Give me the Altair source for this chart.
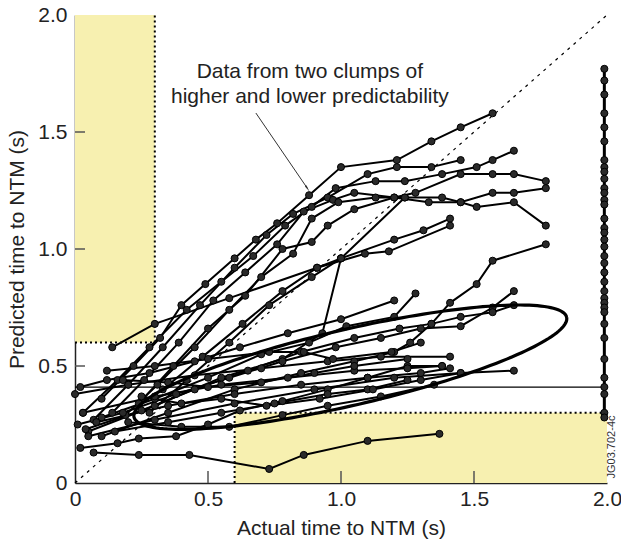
import altair as alt
import pandas as pd
import numpy as np

# ---------------- data ----------------
u1 = [(0.10,0.36),(0.22,0.50),(0.32,0.62),(0.40,0.76),(0.49,0.85),(0.60,0.96),(0.68,1.04),(0.76,1.11),(0.88,1.23),(1.00,1.35),(1.21,1.38),(1.34,1.46),(1.45,1.52),(1.57,1.58)]
u2 = [(0.03,0.30),(0.16,0.44),(0.28,0.58),(0.42,0.74),(0.55,0.86),(0.67,0.97),(0.79,1.10),(0.89,1.18),(0.98,1.26),(1.13,1.29),(1.24,1.29),(1.38,1.32),(1.51,1.35),(1.57,1.38),(1.65,1.42)]
u3 = [(0.07,0.27),(0.20,0.42),(0.33,0.58),(0.47,0.76),(0.60,0.92),(0.72,1.06),(0.82,1.15),(0.95,1.22),(1.10,1.32),(1.21,1.35),(1.34,1.35),(1.45,1.38)]
u4 = [(0.14,0.30),(0.26,0.44),(0.39,0.60),(0.52,0.78),(0.64,0.90),(0.76,1.02),(0.86,1.16),(0.97,1.21),(1.05,1.24),(1.20,1.22),(1.28,1.24),(1.45,1.32),(1.57,1.32),(1.65,1.32),(1.77,1.29)]
u5 = [(0.19,0.29),(0.31,0.42),(0.45,0.58),(0.58,0.74),(0.70,0.88),(0.82,0.98),(0.89,1.13),(0.99,1.20),(1.13,1.22),(1.24,1.22),(1.38,1.22),(1.45,1.20),(1.57,1.24),(1.65,1.24),(1.77,1.26)]
u6 = [(0.24,0.34),(0.37,0.50),(0.50,0.66),(0.64,0.80),(0.78,1.00),(0.89,1.03),(0.95,1.10),(1.05,1.17),(1.20,1.22),(1.33,1.20),(1.45,1.20),(1.51,1.18),(1.65,1.20),(1.77,1.10)]
u7 = [(0.28,0.30),(0.42,0.44),(0.58,0.60),(0.73,0.76),(0.89,0.88),(1.00,0.96),(1.20,1.04),(1.31,1.08),(1.41,1.13)]
u8 = [(0.33,0.40),(0.48,0.54),(0.63,0.68),(0.78,0.82),(0.91,0.92),(1.09,0.98),(1.18,0.99),(1.41,1.10)]
u9 = [(0.14,0.58),(0.30,0.68),(0.58,0.79),(0.91,0.92),(1.00,0.96),(1.24,1.22)]
u10 = [(0.05,0.22),(0.30,0.33),(0.55,0.45),(0.78,0.53),(0.93,0.64),(1.00,0.96)]
u11 = [(0.10,0.20),(0.35,0.30),(0.60,0.40),(0.85,0.47),(1.05,0.52),(1.20,0.56),(1.26,0.60),(1.34,0.68),(1.41,0.77),(1.51,0.85),(1.57,0.95),(1.77,1.02)]

l1 = [(0.07,0.13),(0.24,0.12),(0.43,0.12),(0.73,0.06),(0.86,0.12),(1.10,0.18),(1.37,0.21)]
l2 = [(0.02,0.15),(0.16,0.17),(0.24,0.19),(0.38,0.20),(0.50,0.25),(0.62,0.31),(0.78,0.35),(0.95,0.40),(1.10,0.45),(1.25,0.50),(1.38,0.50)]
l3 = [(0.01,0.25),(0.18,0.30),(0.38,0.38),(0.58,0.45),(0.78,0.52),(0.98,0.58),(1.15,0.62),(1.30,0.66),(1.45,0.67),(1.57,0.75),(1.65,0.82)]
l4 = [(0.04,0.23),(0.25,0.31),(0.45,0.40),(0.65,0.48),(0.85,0.56),(1.05,0.62),(1.22,0.66),(1.34,0.68),(1.45,0.71),(1.57,0.73),(1.65,0.76)]
l5 = [(0.10,0.28),(0.30,0.36),(0.50,0.45),(0.70,0.55),(0.88,0.60),(1.02,0.67),(1.20,0.71),(1.28,0.81)]
l6 = [(0.00,0.38),(0.20,0.42),(0.45,0.46),(0.70,0.49),(0.95,0.52),(1.15,0.54),(1.41,0.54)]
l7 = [(0.03,0.30),(0.30,0.37),(0.55,0.42),(0.80,0.45),(1.05,0.48),(1.25,0.49),(1.38,0.50)]
l8 = [(0.08,0.26),(0.35,0.33),(0.60,0.38),(0.85,0.42),(1.10,0.45),(1.30,0.47),(1.41,0.49)]
l9 = [(0.05,0.20),(0.30,0.27),(0.60,0.34),(0.90,0.40),(1.20,0.45),(1.45,0.47),(1.65,0.48)]
l10 = [(0.12,0.48),(0.30,0.50),(0.50,0.53),(0.73,0.56),(0.86,0.56),(0.97,0.53),(1.19,0.56),(1.30,0.60)]
l11 = [(0.02,0.41),(0.12,0.44),(0.28,0.47),(0.45,0.52),(0.62,0.58),(0.80,0.64),(1.00,0.70),(1.20,0.78)]
l12 = [(0.15,0.22),(0.35,0.26),(0.55,0.30),(0.75,0.34),(0.95,0.38),(1.10,0.40),(1.25,0.44)]
l13 = [(0.20,0.26),(0.40,0.24),(0.58,0.24),(0.78,0.29),(0.95,0.33),(1.15,0.37),(1.35,0.42)]
l14 = [(0.25,0.37),(0.40,0.34),(0.55,0.36),(0.72,0.33),(0.92,0.36),(1.12,0.40),(1.30,0.44),(1.45,0.47)]
l15 = [(0.18,0.44),(0.35,0.43),(0.50,0.41),(0.70,0.43),(0.90,0.47),(1.05,0.50),(1.25,0.53)]

series = [u1,u2,u3,u4,u5,u6,u7,u8,u9,u10,u11,
          l1,l2,l3,l4,l5,l6,l7,l8,l9,l10,l11,l12,l13,l14,l15]

# points piled up at the right edge (actual time saturated at 2.0 s)
edge_x = 1.99
edge_y = [1.77,1.72,1.66,1.58,1.52,1.46,1.38,1.35,1.33,1.30,1.26,1.24,1.21,1.19,1.13,1.09,1.07,
          1.04,1.01,0.97,0.94,0.90,0.86,0.82,0.79,0.77,0.75,0.73,0.68,0.62,0.53,0.45,0.41,0.38,0.30,0.28]

flat_y = 0.41                      # thin horizontal line
yellow_boxes = [(0.0, 0.3, 0.6, 2.0), (0.6, 2.0, 0.0, 0.3)]   # x, x2, y, y2
box_edges = [(0.3, 0.6, 0.3, 2.0), (0.0, 0.6, 0.3, 0.6), (0.6, 0.0, 0.6, 0.3), (0.6, 0.3, 2.0, 0.3)]

# ellipse annotation (centre in data units, axes in pixels, tilt in degrees)
ell_cx, ell_cy, ell_a, ell_b, ell_tilt = 1.035, 0.495, 222, 38, 13

note_lines = ["Data from two clumps of", "higher and lower predictability"]
note_x, note_y = [0.883, 0.883], [1.756, 1.650]
arrow = [(0.680, 1.581), (0.872, 1.262)]

tick_vals = [0.5, 1.0, 1.5]

# ---------------- build tables ----------------
W, H = 532, 468
rows = []
for i, s in enumerate(series):
    for j, (x, y) in enumerate(s):
        rows.append(dict(sid=i, o=j, x=x, y=y))
df = pd.DataFrame(rows)
edge = pd.DataFrame(dict(x=[edge_x]*len(edge_y), y=edge_y, o=list(range(len(edge_y)))))

t = np.linspace(0, 2*np.pi, 181)
th = np.radians(ell_tilt)
dxp = ell_a*np.cos(t)*np.cos(th) - ell_b*np.sin(t)*np.sin(th)
dyp = ell_a*np.cos(t)*np.sin(th) + ell_b*np.sin(t)*np.cos(th)
ell = pd.DataFrame(dict(x=ell_cx + dxp/(W/2), y=ell_cy + dyp/(H/2), o=range(len(t))))

xs = alt.Scale(domain=[0, 2], nice=False, zero=False)
ys = alt.Scale(domain=[0, 2], nice=False, zero=False)
FONT = "Liberation Sans"

base_x = alt.X("x:Q", scale=xs, title="Actual time to NTM (s)",
               axis=alt.Axis(values=[0, 0.5, 1, 1.5, 2], ticks=False, grid=False,
                             labelExpr="datum.value == 0 ? '0' : format(datum.value, '.1f')",
                             labelFlush=False, labelPadding=5, titlePadding=8))
base_y = alt.Y("y:Q", scale=ys, title="Predicted time to NTM (s)",
               axis=alt.Axis(values=[0, 0.5, 1, 1.5, 2], ticks=False, grid=False,
                             labelExpr="datum.value == 0 ? '0' : format(datum.value, '.1f')",
                             labelFlush=False, labelPadding=8, titlePadding=10))

rect_df = pd.DataFrame(yellow_boxes, columns=["x", "x2", "y", "y2"])
rects = alt.Chart(rect_df).mark_rect(color="#F7F0B0").encode(
    x=base_x, x2="x2:Q", y=base_y, y2="y2:Q")

edge_df = pd.DataFrame(box_edges, columns=["x", "y", "x2", "y2"])
edges = alt.Chart(edge_df).mark_rule(color="black", strokeWidth=2, strokeDash=[2, 3]).encode(
    x=alt.X("x:Q", scale=xs), y=alt.Y("y:Q", scale=ys), x2="x2:Q", y2="y2:Q")

diag = alt.Chart(pd.DataFrame(dict(x=[0], y=[0], x2=[2], y2=[2]))).mark_rule(
    color="black", strokeWidth=1.2, strokeDash=[3, 5]).encode(
    x=alt.X("x:Q", scale=xs), y=alt.Y("y:Q", scale=ys), x2="x2:Q", y2="y2:Q")

flat = alt.Chart(pd.DataFrame(dict(x=[0], x2=[2], y=[flat_y]))).mark_rule(
    color="black", strokeWidth=1.3).encode(
    x=alt.X("x:Q", scale=xs), x2="x2:Q", y=alt.Y("y:Q", scale=ys))

lines = alt.Chart(df).mark_line(color="black", strokeWidth=2).encode(
    x=alt.X("x:Q", scale=xs), y=alt.Y("y:Q", scale=ys), detail="sid:N", order="o:Q")
pts = alt.Chart(df).mark_point(filled=True, fill="#2a2a2a", stroke="black",
                               strokeWidth=1, size=50, opacity=1).encode(
    x=alt.X("x:Q", scale=xs), y=alt.Y("y:Q", scale=ys))

edge_line = alt.Chart(edge).mark_line(color="black", strokeWidth=3).encode(
    x=alt.X("x:Q", scale=xs), y=alt.Y("y:Q", scale=ys), order="o:Q")
edge_pts = alt.Chart(edge).mark_point(filled=True, fill="#2a2a2a", stroke="black",
                                      strokeWidth=1, size=50, opacity=1).encode(
    x=alt.X("x:Q", scale=xs), y=alt.Y("y:Q", scale=ys))

ellipse = alt.Chart(ell).mark_line(color="black", strokeWidth=3.2).encode(
    x=alt.X("x:Q", scale=xs), y=alt.Y("y:Q", scale=ys), order="o:Q")

note = alt.Chart(pd.DataFrame(dict(x=note_x, y=note_y, t=note_lines))).mark_text(
    font=FONT, fontSize=21, color="#222", align="center", baseline="middle").encode(
    x=alt.X("x:Q", scale=xs), y=alt.Y("y:Q", scale=ys), text="t:N")

arr_df = pd.DataFrame(dict(x=[arrow[0][0]], y=[arrow[0][1]], x2=[arrow[1][0]], y2=[arrow[1][1]]))
arr = alt.Chart(arr_df).mark_rule(color="#333", strokeWidth=1).encode(
    x=alt.X("x:Q", scale=xs), y=alt.Y("y:Q", scale=ys), x2="x2:Q", y2="y2:Q")
head = alt.Chart(pd.DataFrame(dict(x=[arrow[1][0]], y=[arrow[1][1]]))).mark_point(
    shape="wedge", filled=True, color="#333", size=60, angle=146, opacity=1).encode(
    x=alt.X("x:Q", scale=xs), y=alt.Y("y:Q", scale=ys))

xt = alt.Chart(pd.DataFrame(dict(v=tick_vals))).mark_rule(color="#555", strokeWidth=1.5).encode(
    x=alt.X("v:Q", scale=xs), y=alt.value(H), y2=alt.value(H - 12))
yt = alt.Chart(pd.DataFrame(dict(v=tick_vals))).mark_rule(color="#555", strokeWidth=1.5).encode(
    y=alt.Y("v:Q", scale=ys), x=alt.value(0), x2=alt.value(10))

code = alt.Chart(pd.DataFrame(dict(t=["JG03.702-4c"]))).mark_text(
    font=FONT, fontSize=11, color="#333", angle=270, align="center", baseline="middle").encode(
    x=alt.value(W + 5), y=alt.value(H - 36), text="t:N")

chart = alt.layer(rects, edges, diag, flat, lines, pts, edge_line, edge_pts, ellipse,
                  note, arr, head, xt, yt, code).properties(
    width=W, height=H,
    autosize=alt.AutoSizeParams(type="none"),
    padding={"left": 75, "top": 15, "right": 14, "bottom": 65},
).configure_view(stroke=None).configure_axis(
    domainColor="#222", domainWidth=1.5, labelFont=FONT, titleFont=FONT,
    labelFontSize=21, titleFontSize=21, labelColor="#222", titleColor="#222",
    titleFontWeight="normal")

chart.save("out.html", embed_options={"renderer": "svg", "actions": False})
